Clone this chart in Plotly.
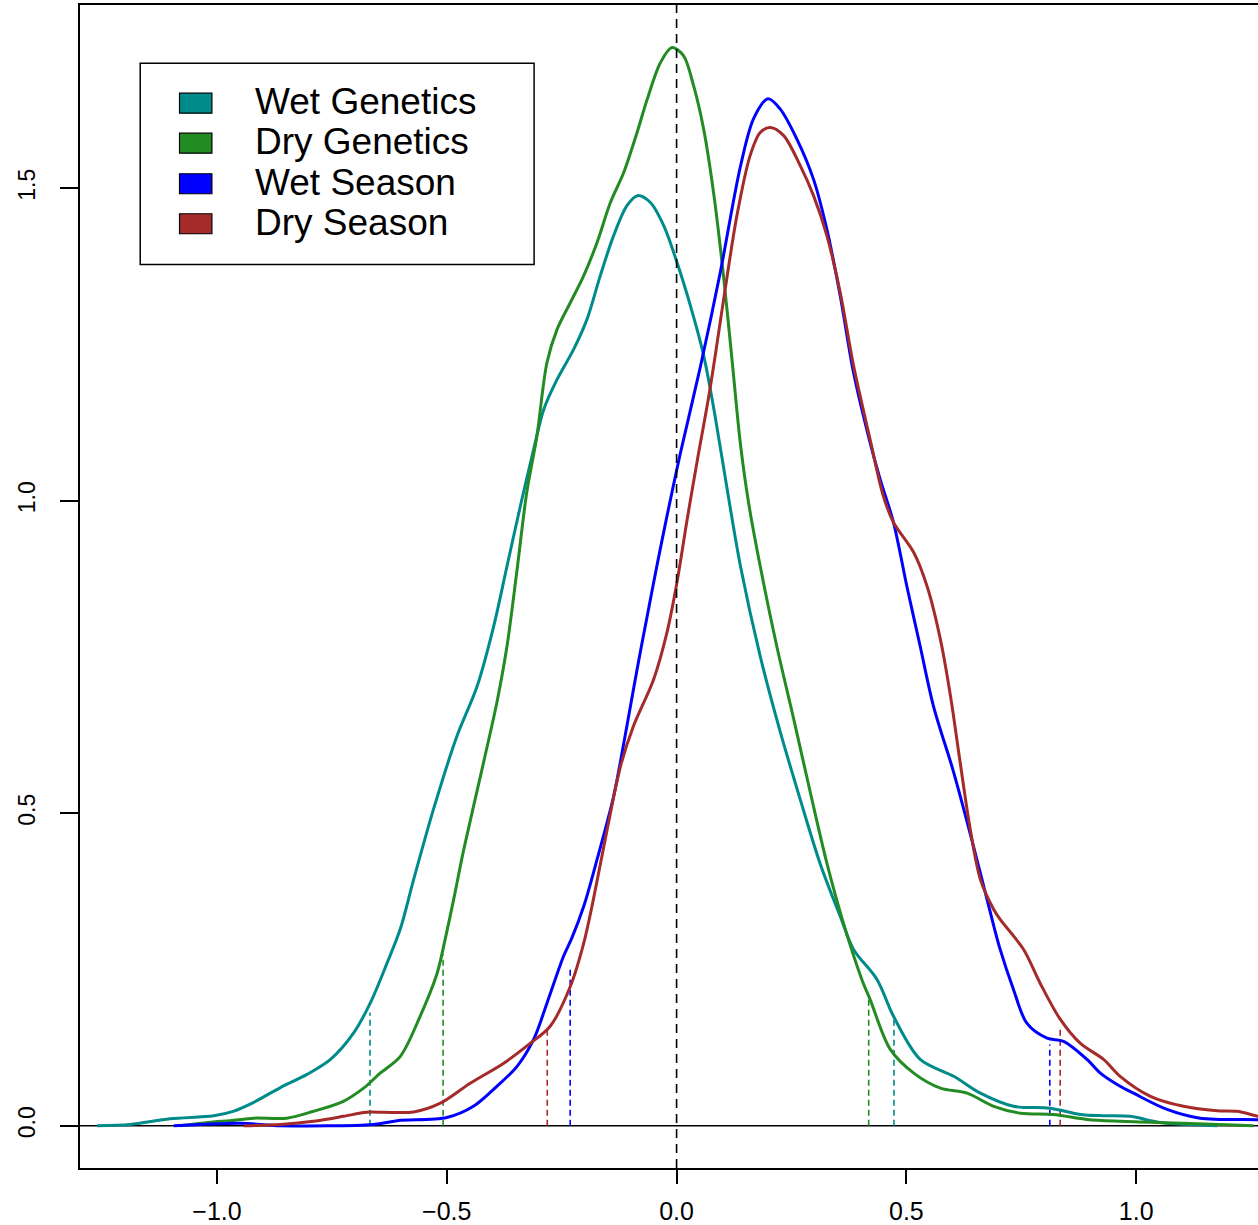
import plotly.graph_objects as go

# ---------------- data ----------------
series_names = ["Wet Genetics", "Dry Genetics", "Wet Season", "Dry Season"]
series_colors = ["#008B8B", "#228B22", "#0000FF", "#A52A2A"]

wet_gen_x = [-1.261, -1.189, -1.102, -1.007, -0.965, -0.921, -0.862, -0.804, -0.753, -0.703,
             -0.666, -0.630, -0.601, -0.572, -0.529, -0.478, -0.434, -0.398, -0.369, -0.340,
             -0.311, -0.289, -0.260, -0.224, -0.195, -0.166, -0.137, -0.108, -0.085, -0.057,
             -0.028, 0.001, 0.030, 0.059, 0.085, 0.113, 0.139, 0.182, 0.226, 0.269,
             0.312, 0.356, 0.385, 0.436, 0.472, 0.530, 0.603, 0.661, 0.733, 0.813,
             0.878, 0.929, 0.987, 1.052, 1.176]
wet_gen_y = [0.000, 0.002, 0.011, 0.016, 0.023, 0.037, 0.061, 0.082, 0.106, 0.148,
             0.197, 0.260, 0.315, 0.394, 0.506, 0.623, 0.703, 0.799, 0.895, 0.991,
             1.082, 1.146, 1.194, 1.242, 1.290, 1.360, 1.424, 1.472, 1.488, 1.477,
             1.440, 1.381, 1.312, 1.232, 1.130, 1.005, 0.895, 0.751, 0.629, 0.522,
             0.420, 0.335, 0.282, 0.234, 0.175, 0.106, 0.079, 0.052, 0.031, 0.028,
             0.018, 0.016, 0.015, 0.005, 0.000]

dry_gen_x = [-1.080, -1.008, -0.971, -0.920, -0.848, -0.790, -0.725, -0.681, -0.645, -0.601,
             -0.558, -0.521, -0.503, -0.485, -0.463, -0.420, -0.391, -0.369, -0.347, -0.326,
             -0.304, -0.282, -0.260, -0.231, -0.202, -0.173, -0.144, -0.115, -0.086, -0.064,
             -0.035, -0.010, 0.015, 0.037, 0.059, 0.081, 0.102, 0.120, 0.139, 0.157,
             0.182, 0.218, 0.255, 0.291, 0.327, 0.363, 0.403, 0.421, 0.465, 0.516,
             0.574, 0.632, 0.690, 0.748, 0.820, 0.893, 0.965, 1.102, 1.255]
dry_gen_y = [0.000, 0.006, 0.008, 0.012, 0.012, 0.023, 0.039, 0.060, 0.084, 0.111,
             0.175, 0.244, 0.300, 0.362, 0.442, 0.581, 0.677, 0.767, 0.890, 1.013,
             1.103, 1.221, 1.274, 1.317, 1.360, 1.413, 1.477, 1.525, 1.589, 1.642,
             1.701, 1.725, 1.712, 1.664, 1.594, 1.490, 1.360, 1.230, 1.090, 0.995,
             0.895, 0.767, 0.650, 0.533, 0.420, 0.324, 0.234, 0.202, 0.122, 0.084,
             0.060, 0.052, 0.031, 0.020, 0.018, 0.010, 0.007, 0.004, 0.000]

wet_sea_x = [-1.094, -0.949, -0.862, -0.660, -0.608, -0.500, -0.442, -0.391, -0.347, -0.311,
             -0.282, -0.246, -0.228, -0.202, -0.173, -0.137, -0.108, -0.086, -0.064, -0.043,
             -0.021, 0.008, 0.052, 0.095, 0.139, 0.168, 0.199, 0.226,
             0.262, 0.298, 0.327, 0.356, 0.385, 0.421, 0.443, 0.472, 0.501, 0.530,
             0.559, 0.603, 0.646, 0.683, 0.704, 0.733, 0.762, 0.806, 0.842, 0.893,
             0.922, 0.965, 0.994, 1.067, 1.139, 1.266, 1.300]
wet_sea_y = [0.000, 0.004, 0.000, 0.002, 0.008, 0.013, 0.031, 0.063, 0.095, 0.138,
             0.196, 0.271, 0.300, 0.351, 0.426, 0.527, 0.640, 0.730, 0.815, 0.895,
             0.975, 1.075, 1.215, 1.365, 1.535, 1.612, 1.643, 1.626,
             1.578, 1.514, 1.434, 1.328, 1.205, 1.093, 1.034, 0.965, 0.863, 0.767,
             0.671, 0.565, 0.447, 0.340, 0.282, 0.218, 0.164, 0.140, 0.135, 0.106,
             0.084, 0.063, 0.052, 0.026, 0.012, 0.0096, 0.008]

dry_sea_x = [-0.942, -0.862, -0.790, -0.725, -0.681, -0.667, -0.572, -0.514, -0.449, -0.376,
             -0.318, -0.275, -0.231, -0.202, -0.181, -0.151, -0.122, -0.094, -0.050, -0.021,
             0.001, 0.023, 0.044, 0.073, 0.102, 0.131, 0.160, 0.182, 0.204, 0.233,
             0.269, 0.298, 0.327, 0.356, 0.385, 0.421, 0.450, 0.472, 0.516, 0.545,
             0.574, 0.596, 0.617, 0.639, 0.661, 0.690, 0.704, 0.755, 0.791, 0.835,
             0.878, 0.929, 0.965, 1.031, 1.103, 1.176, 1.219, 1.266, 1.300]
dry_sea_y = [0.000, 0.002, 0.007, 0.015, 0.021, 0.022, 0.022, 0.036, 0.068, 0.100,
             0.132, 0.159, 0.223, 0.292, 0.362, 0.474, 0.575, 0.639, 0.714, 0.789,
             0.870, 0.970, 1.060, 1.180, 1.320, 1.455, 1.552, 1.589, 1.597, 1.584,
             1.536, 1.488, 1.424, 1.333, 1.216, 1.098, 1.007, 0.965, 0.917, 0.863,
             0.778, 0.687, 0.581, 0.474, 0.394, 0.346, 0.330, 0.282, 0.228, 0.170,
             0.132, 0.106, 0.079, 0.047, 0.031, 0.024, 0.023, 0.015, 0.011]

# quantile markers (lower, upper) and their heights
quant_x = [[-0.667, 0.473], [-0.508, 0.418], [-0.2315, 0.812], [-0.2814, 0.8346]]
quant_h = [[0.181, 0.175], [0.274, 0.202], [0.250, 0.130], [0.154, 0.154]]

x_tick_vals = [-1.0, -0.5, 0.0, 0.5, 1.0]
x_tick_text = ["\u22121.0", "\u22120.5", "0.0", "0.5", "1.0"]
y_tick_vals = [0.0, 0.5, 1.0, 1.5]
y_tick_text = ["0.0", "0.5", "1.0", "1.5"]

xs = [wet_gen_x, dry_gen_x, wet_sea_x, dry_sea_x]
ys = [wet_gen_y, dry_gen_y, wet_sea_y, dry_sea_y]

FONT = "Liberation Sans, Arial, Helvetica, sans-serif"

fig = go.Figure()

# quantile dashed segments
for i in range(4):
    for qx, qh in zip(quant_x[i], quant_h[i]):
        fig.add_trace(go.Scatter(
            x=[qx, qx], y=[0, qh], mode="lines",
            line=dict(color=series_colors[i], width=1.6, dash="6px,4px"),
            hoverinfo="skip", showlegend=False))

# density curves
for i in range(4):
    fig.add_trace(go.Scatter(
        x=xs[i], y=ys[i], mode="lines", name=series_names[i],
        line=dict(color=series_colors[i], width=3, shape="spline", smoothing=0.9),
        showlegend=False))

shapes = [
    dict(type="line", xref="paper", yref="y", x0=0, x1=1, y0=0, y1=0,
         line=dict(color="black", width=1.5), layer="below"),
    dict(type="line", xref="x", yref="paper", x0=0, x1=0, y0=0, y1=1,
         line=dict(color="black", width=1.6, dash="9px,6px"), layer="above"),
]

# legend (drawn manually, R style)
leg_x0, leg_x1, leg_y0, leg_y1 = -1.167, -0.310, 1.378, 1.700
shapes.append(dict(type="rect", xref="x", yref="y", x0=leg_x0, x1=leg_x1, y0=leg_y0, y1=leg_y1,
                   line=dict(color="black", width=1.5), fillcolor="white", layer="above"))
row_y = [1.636, 1.572, 1.507, 1.443]
annotations = []
for i in range(4):
    shapes.append(dict(type="rect", xref="x", yref="y", x0=-1.0815, x1=-1.011,
                       y0=row_y[i] - 0.016, y1=row_y[i] + 0.016,
                       line=dict(color="black", width=1.2), fillcolor=series_colors[i], layer="above"))
    annotations.append(dict(x=-0.921, y=row_y[i] + 0.002, xref="x", yref="y", text=series_names[i],
                            showarrow=False, xanchor="left", yanchor="middle",
                            font=dict(family=FONT, size=37, color="black")))

fig.update_layout(
    width=1258, height=1225,
    margin=dict(l=80, r=0, t=5, b=57),
    paper_bgcolor="white", plot_bgcolor="white",
    shapes=shapes, annotations=annotations,
    font=dict(family=FONT, color="black"),
    showlegend=False,
    xaxis=dict(range=[-1.298, 1.265], tickvals=x_tick_vals, ticktext=x_tick_text,
               showgrid=False, zeroline=False, showline=True, linecolor="black", linewidth=1.5,
               mirror=True, ticks="outside", ticklen=14, tickwidth=1.5, tickcolor="black",
               ticklabelstandoff=6, tickfont=dict(family=FONT, size=25, color="black")),
    yaxis=dict(range=[-0.0677, 1.793], tickvals=y_tick_vals, ticktext=y_tick_text,
               showgrid=False, zeroline=False, showline=True, linecolor="black", linewidth=1.5,
               mirror=False, ticks="outside", ticklen=18, tickwidth=1.5, tickcolor="black",
               tickangle=-90, ticklabelstandoff=16, tickfont=dict(family=FONT, size=23, color="black")),
)

fig.write_html("out.html", config={"displayModeBar": False},
               post_script="document.body.style.margin='0px';document.body.style.padding='0px';")
